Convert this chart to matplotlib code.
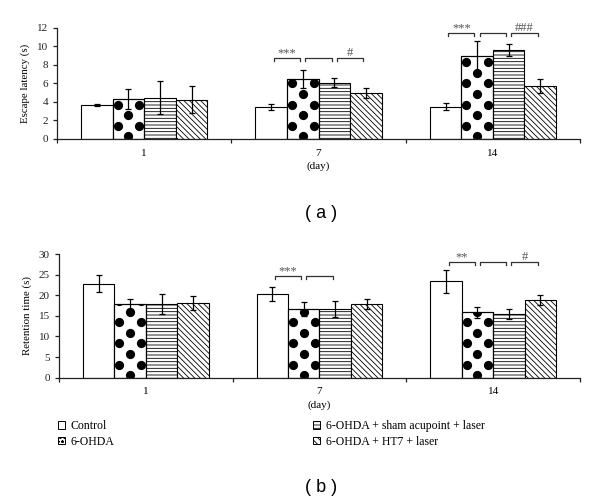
import numpy as np
import matplotlib
matplotlib.use('Agg')
import matplotlib.pyplot as plt
from matplotlib.patches import Patch

plt.rcParams['font.family'] = ['Liberation Serif', 'DejaVu Serif']
plt.rcParams['hatch.linewidth'] = 0.6

# datos
days = ['1', '7', '14']
groups = ['Control', '6-OHDA', '6-OHDA + sham acupoint + laser', '6-OHDA + HT7 + laser']

escape_mean = [[3.7, 3.45, 3.5],
               [4.3, 6.5, 9.0],
               [4.45, 6.1, 9.6],
               [4.25, 5.0, 5.7]]
escape_err = [[0.1, 0.3, 0.35],
              [1.05, 1.0, 1.6],
              [1.8, 0.5, 0.65],
              [1.45, 0.55, 0.75]]

retention_mean = [[22.8, 20.4, 23.4],
                  [17.8, 16.6, 15.9],
                  [17.8, 16.6, 15.5],
                  [18.1, 17.9, 18.9]]
retention_err = [[2.0, 1.7, 2.8],
                 [1.2, 1.7, 1.3],
                 [2.4, 1.9, 1.2],
                 [1.6, 1.3, 1.2]]

# (dia, primera barra del par, etiqueta)
sig_a = [(1, 0, '***'), (1, 1, ''), (1, 2, '#'),
         (2, 0, '***'), (2, 1, ''), (2, 2, '###')]
sig_a_y = [8.8, 8.8, 8.8, 11.45, 11.45, 11.45]
sig_b = [(1, 0, '***'), (1, 1, ''),
         (2, 0, '**'), (2, 1, ''), (2, 2, '#')]
sig_b_y = [24.7, 24.7, 28.1, 28.1, 28.1]

hatches = [None, None, '-----', '\\\\\\\\\\\\']
width = 0.181


def add_dots(ax, bar):
    """Relleno de lunares negros recortado a la barra"""
    x0, y0 = ax.transData.transform((bar.get_x(), 0))
    x1, y1 = ax.transData.transform((bar.get_x() + bar.get_width(), bar.get_height()))
    cx = (x0 + x1) / 2
    pts = []
    k = 0
    while y0 + 2.5 + k * 10.6 < y1 + 6:
        yy = y0 + 2.5 + k * 10.6
        if k % 2 == 0:
            pts.append((cx, yy))
        else:
            pts.append((cx - 10.8, yy))
            pts.append((cx + 10.8, yy))
        k += 1
    pts = ax.transData.inverted().transform(np.array(pts))
    sc = ax.scatter(pts[:, 0], pts[:, 1], s=44, color='black', linewidths=0, zorder=2.1)
    sc.set_clip_path(bar)
    ax.bar(bar.get_x() + bar.get_width() / 2, bar.get_height(), bar.get_width(),
           fill=False, edgecolor='black', linewidth=0.8, zorder=2.2)


def draw_panel(ax, means, errs, ymax, ystep, ylabel, sigs, sig_y, tick_len):
    ax.set_xlim(-0.5, 2.5)
    ax.set_ylim(0, ymax)
    x = np.arange(len(days))
    for i in range(4):
        pos = x + (i - 1.5) * width
        bars = ax.bar(pos, means[i], width, color='white', edgecolor='black',
                      linewidth=0.8, hatch=hatches[i], zorder=2)
        if i == 1:
            for b in bars:
                add_dots(ax, b)
        ax.errorbar(pos, means[i], yerr=errs[i], fmt='none', ecolor='black',
                    elinewidth=0.9, capsize=2.5, capthick=0.9, zorder=3)

    for (d, j, lab), yb in zip(sigs, sig_y):
        xa = d + (j - 1.5) * width + 0.015
        xb = d + (j - 0.5) * width - 0.015
        ax.plot([xa, xa, xb, xb], [yb - tick_len, yb, yb, yb - tick_len],
                color='#333333', lw=0.9, clip_on=False)
        if lab:
            ax.text((xa + xb) / 2, yb + tick_len * 1.5, lab, ha='center', va='center',
                    color='#555555', fontsize=9)

    ax.set_yticks(np.arange(0, ymax + 0.1, ystep))
    ax.set_xticks([-0.5, 0.5, 1.5, 2.5])
    ax.set_xticklabels([])
    ax.set_xticks(x, minor=True)
    ax.set_xticklabels(days, minor=True)
    ax.tick_params(axis='x', which='minor', length=0, pad=7, labelsize=8)
    ax.tick_params(axis='both', which='major', direction='out', length=3,
                   width=0.9, labelsize=8, colors='#222222')
    ax.set_xlabel('(day)', fontsize=8, labelpad=3)
    ax.set_ylabel(ylabel, fontsize=7.8, labelpad=5)
    for s in ['top', 'right']:
        ax.spines[s].set_visible(False)
    for s in ['left', 'bottom']:
        ax.spines[s].set_linewidth(0.9)
        ax.spines[s].set_color('#222222')


fig = plt.figure(figsize=(6, 5.01), dpi=100)
ax_a = fig.add_axes([0.095, 0.7226, 0.8717, 0.2216])
ax_b = fig.add_axes([0.0983, 0.2461, 0.8683, 0.2469])

draw_panel(ax_a, escape_mean, escape_err, 12, 2, 'Escape latency (s)', sig_a, sig_a_y, 0.33)
draw_panel(ax_b, retention_mean, retention_err, 30, 5, 'Retention time (s)', sig_b, sig_b_y, 0.75)

fig.text(0.535, 1 - 214 / 501, '( a )', ha='center', va='center', fontsize=13,
         family='Liberation Sans')
fig.text(0.535, 1 - 487 / 501, '( b )', ha='center', va='center', fontsize=13,
         family='Liberation Sans')

handles = [Patch(facecolor='white', edgecolor='black', linewidth=0.7),
           Patch(facecolor='white', edgecolor='black', linewidth=0.7, hatch='oooo'),
           Patch(facecolor='white', edgecolor='black', linewidth=0.7, hatch='-----'),
           Patch(facecolor='white', edgecolor='black', linewidth=0.7, hatch='\\\\\\\\\\')]
leg_kw = dict(frameon=False, fontsize=8.5, handlelength=0.6, handleheight=0.6,
              handletextpad=0.45, labelspacing=0.3, borderaxespad=0, borderpad=0)
fig.legend(handles[:2], groups[:2], loc='upper left', bbox_to_anchor=(0.097, 1 - 420 / 501), **leg_kw)
fig.legend(handles[2:], groups[2:], loc='upper left', bbox_to_anchor=(0.522, 1 - 420 / 501), **leg_kw)

fig.savefig('out.png', dpi=100)
